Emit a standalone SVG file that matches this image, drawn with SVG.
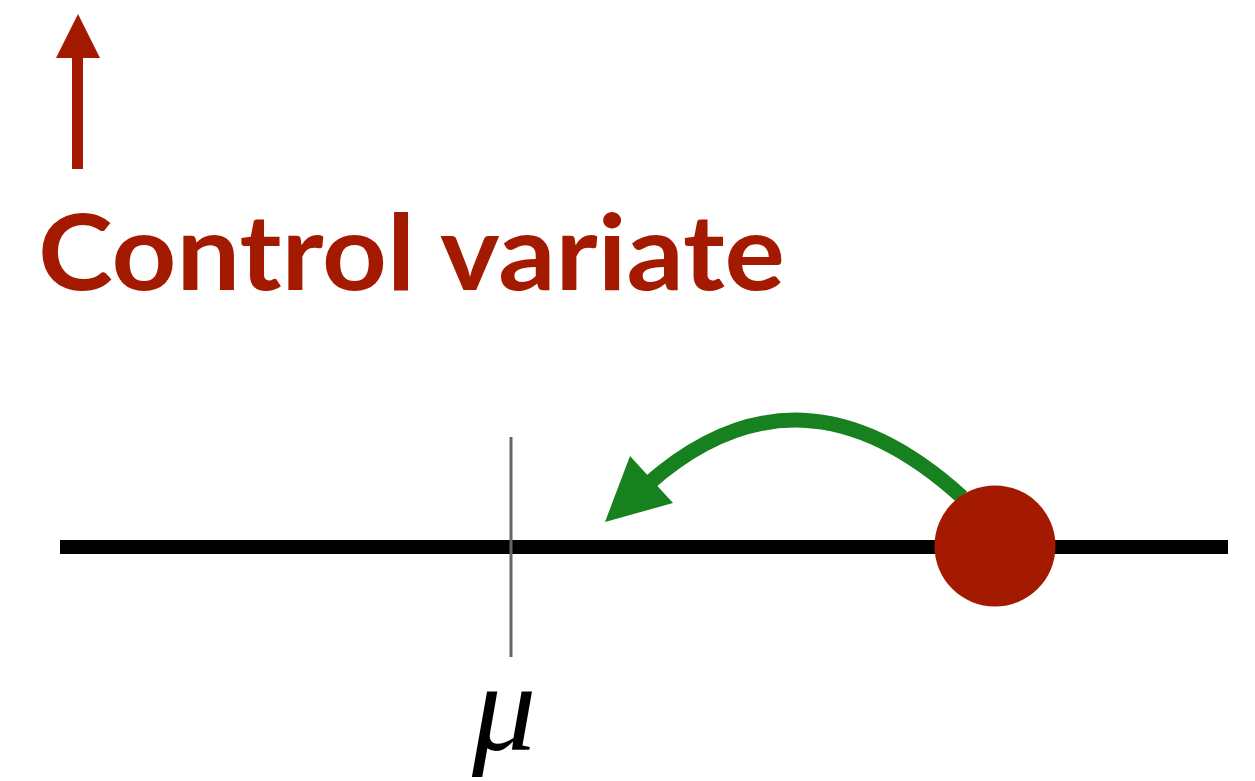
<svg xmlns="http://www.w3.org/2000/svg" width="1255" height="781" viewBox="0 0 1255 781">
<style>
.red{fill:#A41A00}
.title{font-family:"Lato","Liberation Sans",sans-serif;font-weight:bold;font-size:106px;fill:#A41A00}
.mu{font-family:"Liberation Serif",serif;font-style:italic;font-size:128px;fill:#000}
</style>
<rect width="1255" height="781" fill="#fff"/>
<g id="up-arrow">
<rect class="red" x="72" y="56" width="11" height="113"/>
<polygon class="red" points="78,14 100,58 56,58"/>
</g>
<g id="title">
<text class="title" x="38" y="290" textLength="747" lengthAdjust="spacingAndGlyphs">Control variate</text>
</g>
<g id="axis">
<line x1="60" y1="547" x2="1228" y2="547" stroke="#000" stroke-width="14"/>
<line x1="511" y1="437" x2="511" y2="657" stroke="#666" stroke-width="3"/>
</g>
<g id="mu-label">
<text class="mu" x="472" y="750">μ</text>
</g>
<g id="connectors">
<path d="M962,497 Q800,350 648,484" fill="none" stroke="#17801F" stroke-width="15"/>
<polygon points="605,522 630,456 673,503" fill="#17801F"/>
</g>
<g id="point">
<circle cx="995" cy="546" r="60.5" fill="#A41A00"/>
</g>
</svg>
